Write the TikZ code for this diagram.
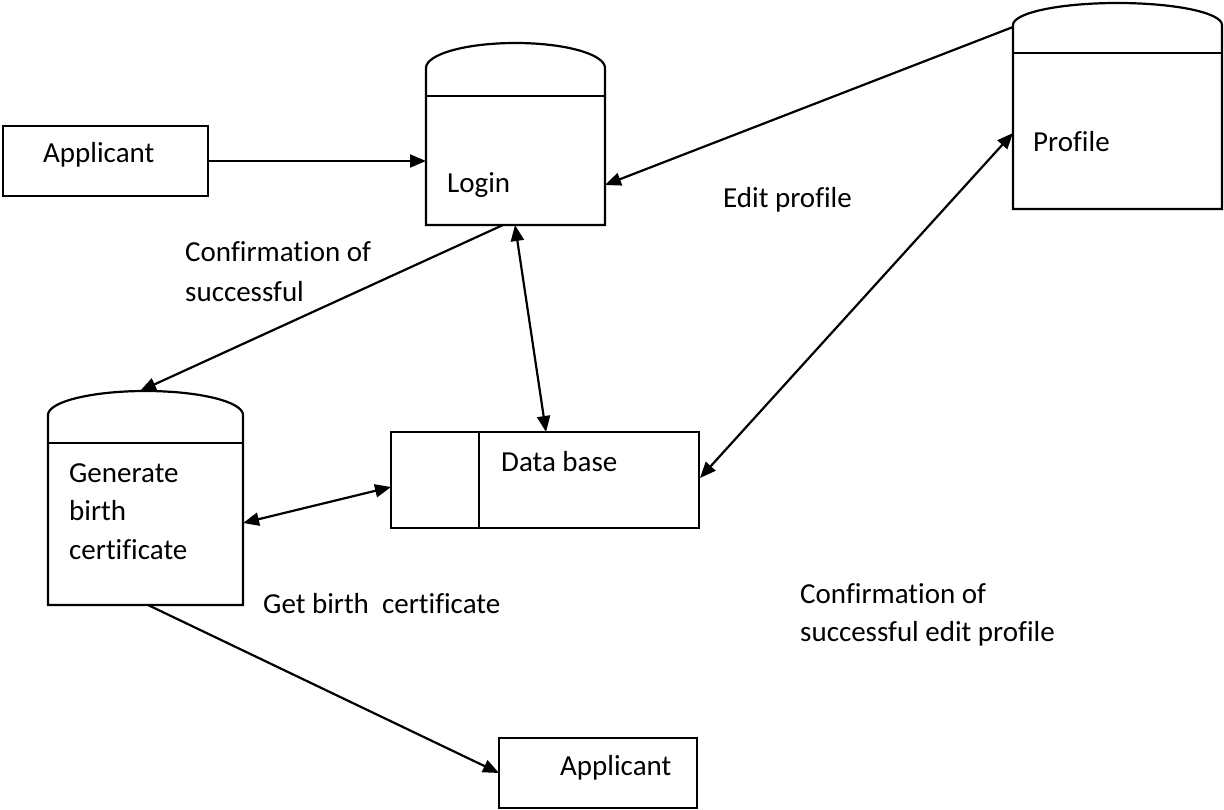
\documentclass[tikz,border=0pt]{standalone}
\usepackage{fontspec}
\setmainfont{Carlito}[Ligatures=NoCommon]
\usetikzlibrary{arrows.meta,calc}
\tikzset{
  frame/.style={inner sep=0pt, outer sep=0pt, anchor=north west},
  boxed/.style={frame, draw, line width=2.2pt},
  hidden/.style={frame, draw=none},
  outline/.style={line width=2.2pt},
  tip/.style={},
  arr/.style={line width=2.2pt, -{Triangle[length=16pt,width=13pt]}},
  darr/.style={line width=2.2pt, {Triangle[length=16pt,width=13pt]}-{Triangle[length=16pt,width=13pt]}},
  txt/.style={anchor=base west, inner sep=0pt, font=\fontsize{29}{38}\selectfont},
}
\begin{document}
\begin{tikzpicture}[x=1pt,y=-1pt]
\useasboundingbox[fill=white] (0,0) rectangle (1224,810);

% external entities and data base
\node[boxed, minimum width=205pt, minimum height=70pt] (app1) at (3,126) {};
\node[boxed, minimum width=198pt, minimum height=70pt] (app2) at (499,738) {};
\node[boxed, minimum width=308pt, minimum height=96pt] (db) at (391,432) {};
\draw[outline] ($(db.north west)+(88,0)$) -- ($(db.south west)+(88,0)$);

% stores (cylinders)
\node[hidden, minimum width=179pt, minimum height=182pt] (login) at (426,43) {};
\node[hidden, minimum width=209pt, minimum height=207pt] (profile) at (1013,2) {};
\node[hidden, minimum width=195pt, minimum height=214pt] (gen) at (48,391) {};

\draw[outline] (login.south west) -- ($(login.north west)+(0,25)$)
  arc[start angle=180,end angle=0,x radius=89.5pt,y radius=25pt]
  -- (login.south east) -- cycle;
\draw[outline] ($(login.north west)+(0,53)$) -- ($(login.north east)+(0,53)$);

\draw[outline] (profile.south west) -- ($(profile.north west)+(0,23)$)
  arc[start angle=180,end angle=0,x radius=104.5pt,y radius=22pt]
  -- (profile.south east) -- cycle;
\draw[outline] ($(profile.north west)+(0,51)$) -- ($(profile.north east)+(0,51)$);

\draw[outline] (gen.south west) -- ($(gen.north west)+(0,24)$)
  arc[start angle=180,end angle=0,x radius=97.5pt,y radius=24pt]
  -- (gen.south east) -- cycle;
\draw[outline] ($(gen.north west)+(0,52)$) -- ($(gen.north east)+(0,52)$);

% texts inside shapes
\node[txt] (t1) at (43,163) {Applicant};
\node[txt] (t2) at (560,775) {Applicant};
\node[txt] (t3) at (501,471) {Data base};
\node[txt] (t4) at (447,193) {Login};
\node[txt] (t5) at (1033,152) {Profile};
\node[txt] (t6) at (69,482) {Generate};
\node[txt] (t7) at (69,520) {birth};
\node[txt] (t8) at (69,559) {certificate};

% flow labels
\node[txt] (l1) at (185,262) {Confirmation of};
\node[txt] (l2) at (185,302) {successful};
\node[txt] (l3) at (723,208) {Edit profile};
\node[txt] (l4) at (800,603) {Confirmation of};
\node[txt] (l5) at (800,641) {successful edit profile};
\node[txt] (l6) at (263,613) {Get birth\ \ certificate};

% connectors
\draw[arr] (app1.east) -- (app1.east -| login.west);
\draw[arr] ($(profile.north west)+(0,25)$) -- ($(login.north east)+(0,142)$);
\draw[darr] ($(login.south west)+(89,0)$) -- ($(db.north west)+(155,0)$);
\draw[arr] ($(login.south west)+(77,0)$) -- ($(gen.north west)+(92,0)$);
\draw[darr] ($(db.north east)+(1,46)$) -- ($(profile.north west)+(0,131)$);
\draw[darr] ($(gen.north east)+(0,132)$) -- ($(db.north west)+(0,55)$);
\draw[arr] ($(gen.south west)+(100,0)$) -- ($(app2.north west)+(0,35)$);
\end{tikzpicture}
\end{document}
